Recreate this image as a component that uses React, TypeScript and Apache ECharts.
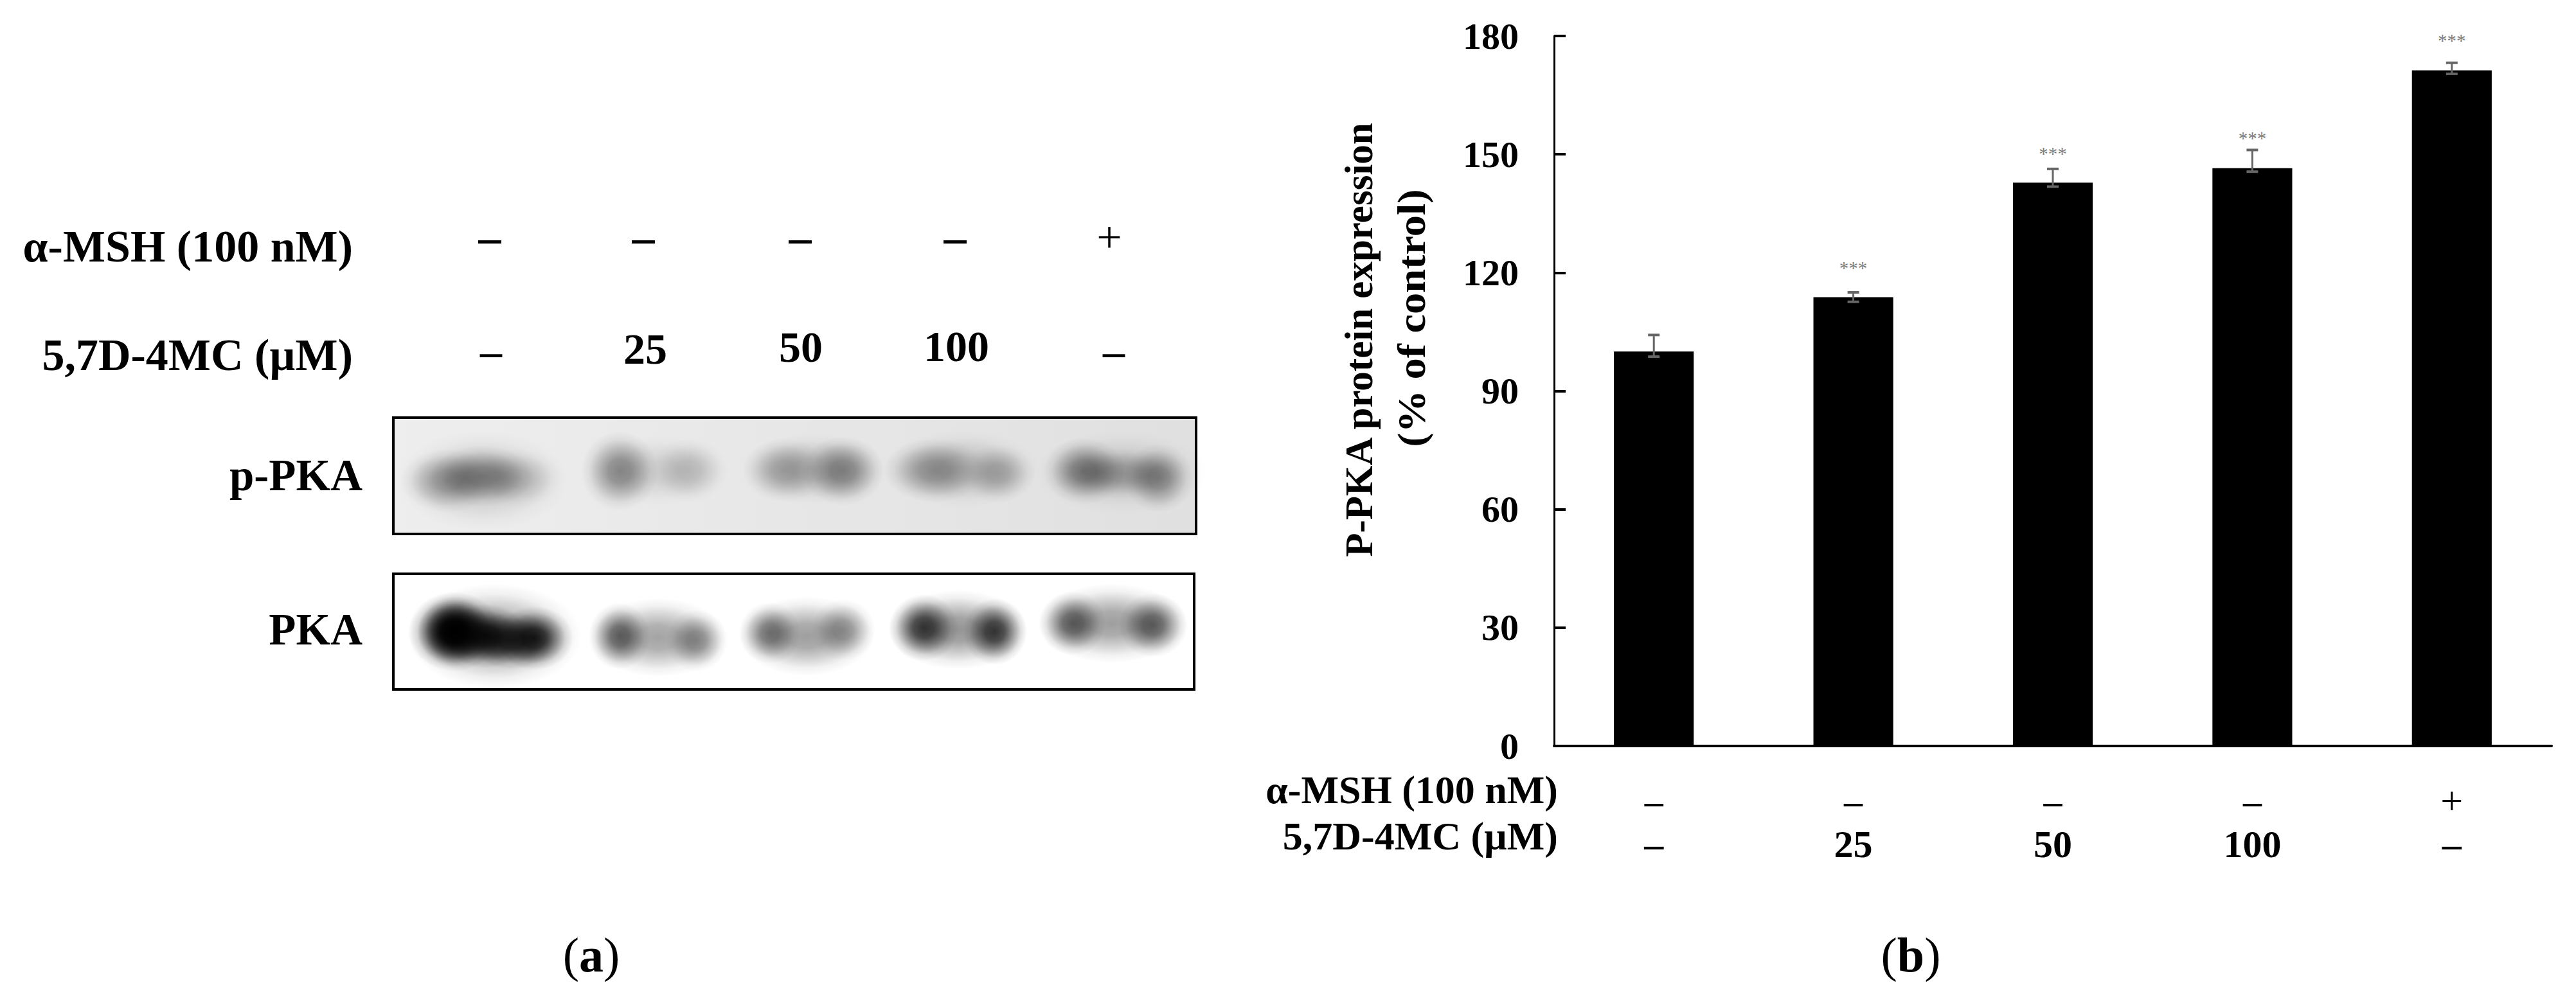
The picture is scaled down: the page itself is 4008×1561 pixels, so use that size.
import React, { useEffect, useRef } from "react";
import * as echarts from "echarts";

const FONT = "Liberation Serif";

const mshRow = ["–", "–", "–", "–", "+"];
const doseRow = ["–", "25", "50", "100", "–"];
const yTicksMax = 180;
const yTickStep = 30;
const barValues = [100, 113.8, 142.8, 146.5, 171.3];
const errLow = [98.7, 112.6, 141.8, 145.6, 170.4];
const errHigh = [104.2, 115, 146.3, 151.1, 173.2];
const starLevels = [null, 122.1, 151.1, 155, 179.8];

const yTitleLines = ["P-PKA protein expression", "(% of control)"];
const mshLabel = "α-MSH (100 nM)";
const doseLabel = "5,7D-4MC (µM)";

// Western blot bands, drawn as soft blobs: [cx, cy, rx, ry, darkness]
const pPkaBands = [
  [750, 748, 135, 78, 0.17],
  [696, 748, 72, 50, 0.32],
  [750, 741, 80, 48, 0.36],
  [803, 744, 72, 46, 0.18],
  [964, 733, 60, 62, 0.4],
  [1073, 732, 60, 50, 0.16],
  [1024, 733, 105, 55, 0.12],
  [1220, 732, 66, 50, 0.24],
  [1312, 733, 64, 54, 0.38],
  [1265, 730, 110, 56, 0.2],
  [1454, 732, 80, 50, 0.32],
  [1553, 737, 58, 46, 0.24],
  [1497, 730, 120, 60, 0.18],
  [1687, 733, 64, 52, 0.42],
  [1803, 744, 54, 54, 0.36],
  [1745, 737, 95, 40, 0.26],
  [1745, 735, 135, 66, 0.14],
];
const pkaBands = [
  [707, 983, 72, 62, 1],
  [707, 983, 58, 55, 1],
  [756, 990, 66, 50, 0.9],
  [832, 993, 60, 50, 0.85],
  [796, 997, 66, 45, 0.7],
  [770, 990, 135, 82, 0.4],
  [964, 990, 48, 52, 0.58],
  [1084, 997, 48, 48, 0.4],
  [1024, 992, 105, 62, 0.36],
  [1198, 985, 48, 48, 0.48],
  [1312, 980, 50, 48, 0.36],
  [1255, 990, 105, 62, 0.38],
  [1437, 977, 54, 52, 0.75],
  [1548, 983, 50, 52, 0.75],
  [1490, 980, 108, 62, 0.42],
  [1669, 970, 52, 50, 0.58],
  [1794, 973, 54, 50, 0.58],
  [1730, 970, 116, 62, 0.38],
];

const blob = (b: number[]) => {
  const [cx, cy, rx, ry, d] = b;
  const c = (a: number) => `rgba(0,0,0,${(a * d).toFixed(3)})`;
  return {
    type: "ellipse",
    silent: true,
    shape: { cx, cy, rx, ry },
    style: {
      fill: new echarts.graphic.RadialGradient(0.5, 0.5, 0.5, [
        { offset: 0, color: c(1) },
        { offset: 0.3, color: c(0.85) },
        { offset: 0.55, color: c(0.5) },
        { offset: 0.8, color: c(0.14) },
        { offset: 1, color: c(0) },
      ]),
    },
  };
};

const txt = (
  text: string,
  x: number,
  y: number,
  fontSize: number,
  align: string,
  extra: any = {},
) => {
  const { style, ...rest } = extra;
  return {
    type: "text",
    x,
    y,
    silent: true,
    ...rest,
    style: {
      text,
      fontFamily: FONT,
      fontSize,
      fontWeight: "bold",
      fill: "#000",
      align,
      verticalAlign: "middle",
      ...(style || {}),
    },
  };
};

const panelLabel = (letter: string, x: number, y: number) =>
  txt(`{n|(}{b|${letter}}{n|)}`, x, y, 76, "center", {
    style: {
      rich: {
        n: { fontFamily: FONT, fontSize: 76, fontWeight: "normal", fill: "#000" },
        b: { fontFamily: FONT, fontSize: 76, fontWeight: "bold", fill: "#000" },
      },
    },
  });

const frame = (x: number, y: number, width: number, height: number) => ({
  type: "rect",
  silent: true,
  shape: { x, y, width, height },
  style: { fill: "none", stroke: "#000", lineWidth: 4 },
});

const leftSignXs = [762, 1001, 1245, 1486, 1726];
const leftDoseXs = [764, 1004, 1246, 1488, 1733];
const leftDoseYs = [546, 543, 540, 539, 546];

export default function App() {
  const ref = useRef<HTMLDivElement>(null);
  useEffect(() => {
    document.body.style.margin = "0";
    const chart = echarts.init(ref.current!, null, { renderer: "svg" });
    const categories = mshRow.map((m, i) => `${m}|${doseRow[i]}`);
    chart.setOption({
      animation: false,
      backgroundColor: "#fff",
      grid: { left: 2418, right: 38, top: 56, bottom: 400, containLabel: false },
      xAxis: {
        type: "category",
        data: categories,
        axisLine: { lineStyle: { color: "#000", width: 4 } },
        axisTick: { inside: true, length: 18, lineStyle: { color: "#000", width: 2 } },
        axisLabel: {
          interval: 0,
          margin: 51,
          fontFamily: FONT,
          formatter: (v: string) => {
            const [a, b] = v.split("|");
            return `{${a === "+" ? "p" : "s"}|${a}}\n{d|${b}}`;
          },
          rich: {
            s: { fontFamily: FONT, fontSize: 58, fontWeight: "bold", lineHeight: 68, color: "#000" },
            p: { fontFamily: FONT, fontSize: 62, lineHeight: 68, color: "#000" },
            d: { fontFamily: FONT, fontSize: 60, fontWeight: "bold", lineHeight: 68, color: "#000" },
          },
        },
      },
      yAxis: {
        type: "value",
        min: 0,
        max: yTicksMax,
        interval: yTickStep,
        splitLine: { show: false },
        axisLine: { show: true, lineStyle: { color: "#000", width: 3 } },
        axisTick: { show: true, inside: true, length: 18, lineStyle: { color: "#000", width: 4 } },
        axisLabel: { margin: 55, fontFamily: FONT, fontSize: 58, fontWeight: "bold", color: "#000" },
      },
      series: [
        {
          type: "bar",
          data: barValues,
          barWidth: "40%",
          itemStyle: { color: "#000" },
        },
        {
          type: "custom",
          data: errLow.map((l, i) => [i, l, errHigh[i]]),
          encode: { x: 0, y: [1, 2] },
          z: 5,
          renderItem: (_p: any, api: any) => {
            const i = api.value(0);
            const lo = api.coord([i, api.value(1)]);
            const hi = api.coord([i, api.value(2)]);
            const style = { stroke: "#666", lineWidth: 3, fill: "none" };
            const cap = 9;
            return {
              type: "group",
              children: [
                { type: "line", shape: { x1: lo[0], y1: lo[1], x2: hi[0], y2: hi[1] }, style },
                { type: "line", shape: { x1: lo[0] - cap, y1: lo[1], x2: lo[0] + cap, y2: lo[1] }, style: { ...style, lineWidth: 4 } },
                { type: "line", shape: { x1: hi[0] - cap, y1: hi[1], x2: hi[0] + cap, y2: hi[1] }, style: { ...style, lineWidth: 4 } },
              ],
            };
          },
        },
        {
          type: "scatter",
          data: starLevels,
          symbolSize: 0,
          z: 6,
          label: {
            show: true,
            position: "inside",
            offset: [0, 6],
            formatter: "***",
            fontFamily: FONT,
            fontSize: 29,
            color: "#5a5a5a",
          },
        },
      ],
      graphic: {
        elements: [
          {
            type: "rect",
            silent: true,
            shape: { x: 612, y: 650, width: 1249, height: 181 },
            style: {
              fill: new echarts.graphic.LinearGradient(0, 0, 1, 0, [
                { offset: 0, color: "#eeeeee" },
                { offset: 1, color: "#e0e0e0" },
              ]),
            },
          },
          ...pPkaBands.map(blob),
          ...pkaBands.map(blob),
          frame(612, 650, 1249, 181),
          frame(612, 893, 1246, 180),

          txt(mshLabel, 549, 383, 70, "right"),
          txt(doseLabel, 549, 552, 70, "right"),
          txt("p-PKA", 564, 740, 69, "right"),
          txt("PKA", 564, 980, 69, "right"),
          ...mshRow.map((s, i) =>
            txt(s, leftSignXs[i], 369, 70, "center", { style: { fontWeight: s === "+" ? "normal" : "bold" } }),
          ),
          ...doseRow.map((s, i) => txt(s, leftDoseXs[i], leftDoseYs[i], 68, "center")),

          txt(yTitleLines[0], 2114, 529, 61, "center", { rotation: Math.PI / 2 }),
          txt(yTitleLines[1], 2196, 495, 61, "center", { rotation: Math.PI / 2, scaleX: 1.09 }),
          txt(mshLabel, 2424, 1229, 62, "right"),
          txt(doseLabel, 2424, 1301, 62, "right"),

          panelLabel("a", 920, 1486),
          panelLabel("b", 2973, 1486),
        ],
      },
    });
    return () => chart.dispose();
  }, []);
  return <div ref={ref} style={{ position: "absolute", left: 0, top: 0, width: 4008, height: 1561 }} />;
}
